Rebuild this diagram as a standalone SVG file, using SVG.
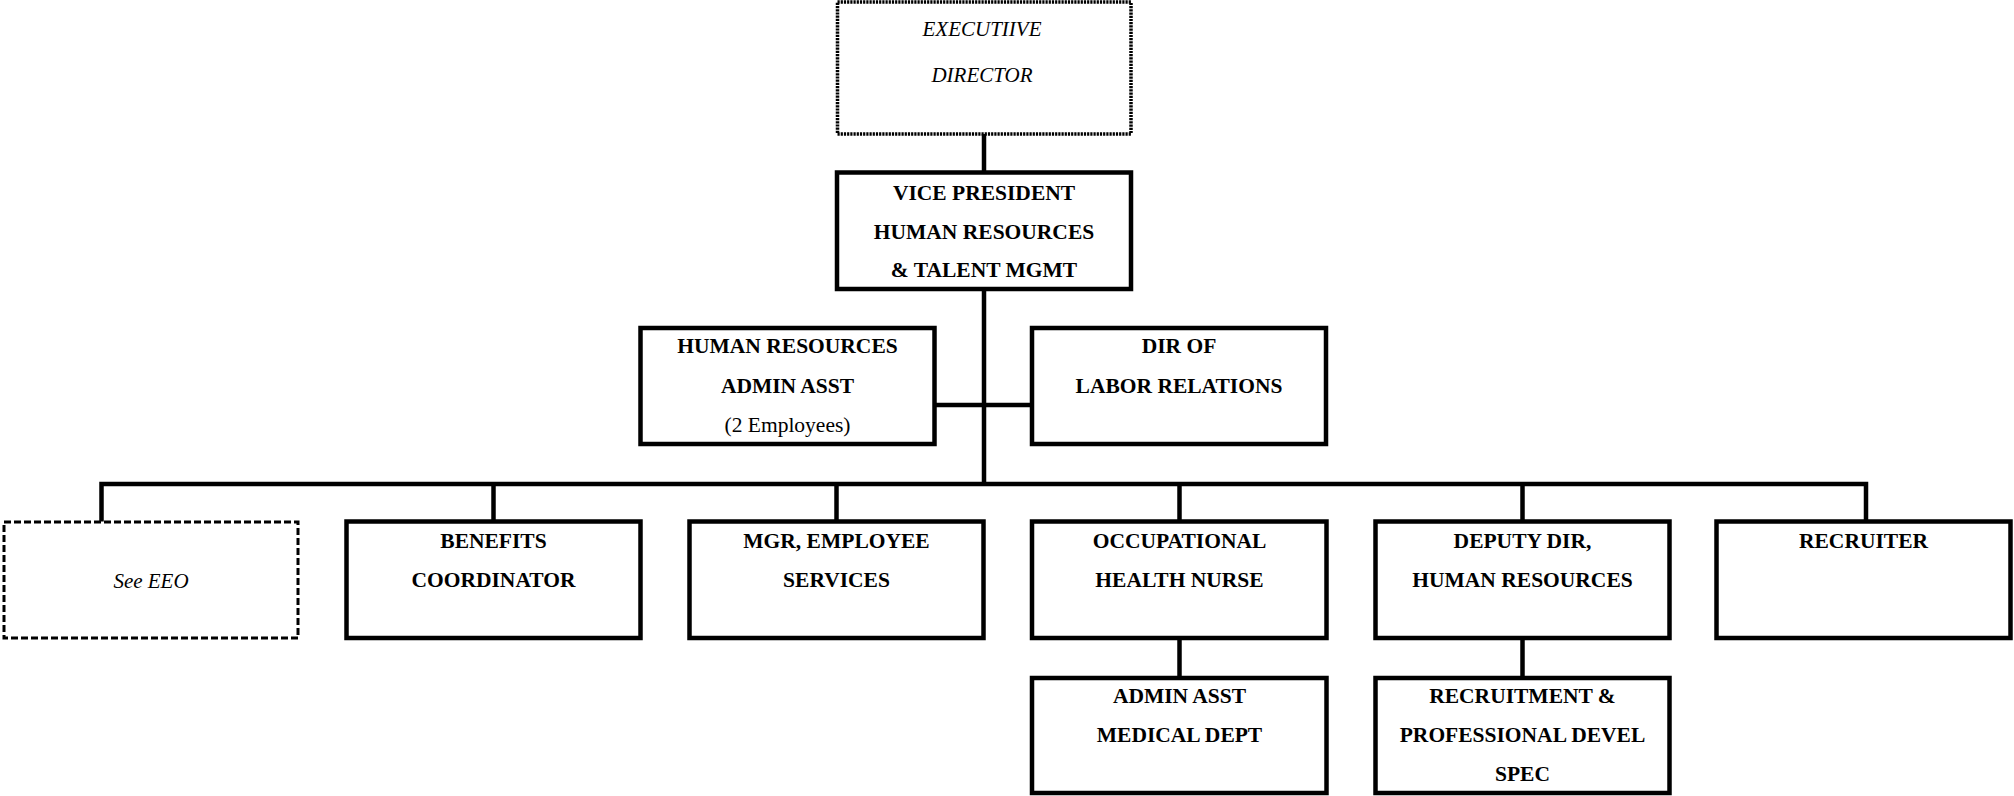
<svg xmlns="http://www.w3.org/2000/svg" width="2014" height="796" viewBox="0 0 2014 796">
  <style>
    .box { fill: #fff; stroke: #000; stroke-width: 4.5; }
    .dotted { fill: #fff; stroke: #000; stroke-width: 3.5; stroke-dasharray: 2.2 1; }
    .dashed { fill: #fff; stroke: #000; stroke-width: 3; stroke-dasharray: 7 3; }
    .link { fill: none; stroke: #000; stroke-width: 4.5; stroke-linejoin: miter; }
    text { font-family: "Liberation Serif", "Times New Roman", serif; font-size: 21.5px; text-anchor: middle; fill: #000; }
    .b { font-weight: bold; }
    .i { font-style: italic; font-size: 21px; }
  </style>

  <rect width="2014" height="796" fill="#fff"/>

  <!-- reporting lines -->
  <g id="connectors" class="link">
    <path d="M984 134 V172.5"/>
    <path d="M984 289 V484"/>
    <path d="M934.5 405 H1032"/>
    <path d="M101.5 521.5 V484 H1866 V521.5"/>
    <path d="M493.5 484 V521.5"/>
    <path d="M836.5 484 V521.5"/>
    <path d="M1179.5 484 V521.5"/>
    <path d="M1522.5 484 V521.5"/>
    <path d="M1179.5 638 V678"/>
    <path d="M1522.5 638 V678"/>
  </g>

  <g id="executive-director">
    <rect class="dotted" x="837.5" y="2" width="293.5" height="132"/>
    <text class="i" x="982" y="36">EXECUTIIVE</text>
    <text class="i" x="982" y="82">DIRECTOR</text>
  </g>

  <g id="vice-president">
    <rect class="box" x="837" y="172.5" width="294" height="116.5"/>
    <text class="b" x="984" y="200">VICE PRESIDENT</text>
    <text class="b" x="984" y="238.5">HUMAN RESOURCES</text>
    <text class="b" x="984" y="277">&amp; TALENT MGMT</text>
  </g>

  <g id="hr-admin-asst">
    <rect class="box" x="640.5" y="328" width="294" height="116"/>
    <text class="b" x="787.5" y="353">HUMAN RESOURCES</text>
    <text class="b" x="787.5" y="392.5">ADMIN ASST</text>
    <text x="787.5" y="432">(2 Employees)</text>
  </g>

  <g id="dir-labor-relations">
    <rect class="box" x="1032" y="328" width="294" height="116"/>
    <text class="b" x="1179" y="353">DIR OF</text>
    <text class="b" x="1179" y="392.5">LABOR RELATIONS</text>
  </g>

  <g id="see-eeo">
    <rect class="dashed" x="4" y="522" width="294" height="116"/>
    <text class="i" x="151" y="588">See EEO</text>
  </g>

  <g id="benefits-coordinator">
    <rect class="box" x="346.5" y="521.5" width="294" height="116.5"/>
    <text class="b" x="493.5" y="548">BENEFITS</text>
    <text class="b" x="493.5" y="587">COORDINATOR</text>
  </g>

  <g id="mgr-employee-services">
    <rect class="box" x="689.5" y="521.5" width="294" height="116.5"/>
    <text class="b" x="836.5" y="548">MGR, EMPLOYEE</text>
    <text class="b" x="836.5" y="587">SERVICES</text>
  </g>

  <g id="occupational-health-nurse">
    <rect class="box" x="1032" y="521.5" width="294.5" height="116.5"/>
    <text class="b" x="1179.5" y="548">OCCUPATIONAL</text>
    <text class="b" x="1179.5" y="587">HEALTH NURSE</text>
  </g>

  <g id="deputy-dir-hr">
    <rect class="box" x="1375.5" y="521.5" width="294" height="116.5"/>
    <text class="b" x="1522.5" y="548">DEPUTY DIR,</text>
    <text class="b" x="1522.5" y="587">HUMAN RESOURCES</text>
  </g>

  <g id="recruiter">
    <rect class="box" x="1716.5" y="521.5" width="294" height="116.5"/>
    <text class="b" x="1863.5" y="548">RECRUITER</text>
  </g>

  <g id="admin-asst-medical">
    <rect class="box" x="1032" y="678" width="294.5" height="115"/>
    <text class="b" x="1179.5" y="703">ADMIN ASST</text>
    <text class="b" x="1179.5" y="742">MEDICAL DEPT</text>
  </g>

  <g id="recruitment-prof-devel">
    <rect class="box" x="1375.5" y="678" width="294" height="115"/>
    <text class="b" x="1522.5" y="703">RECRUITMENT &amp;</text>
    <text class="b" x="1522.5" y="742">PROFESSIONAL DEVEL</text>
    <text class="b" x="1522.5" y="780.5">SPEC</text>
  </g>
</svg>
